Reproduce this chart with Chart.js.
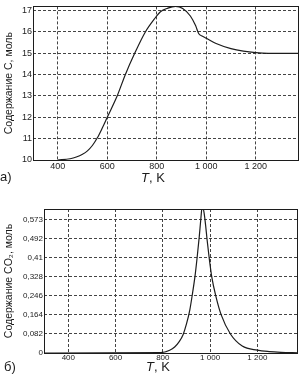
<!DOCTYPE html>
<html>
<head>
<meta charset="utf-8">
<script src="https://cdn.jsdelivr.net/npm/chart.js@4"></script>
<style>
  html,body{margin:0;padding:0;background:#fff;}
  #wrap{position:relative;width:300px;height:383px;}
  .box{position:absolute;left:0;width:300px;}
</style>
</head>
<body>
<div id="wrap">
  <div class="box" style="top:0;height:190px"><canvas id="chartC"></canvas></div>
  <div class="box" style="top:190px;height:193px"><canvas id="chartCO2"></canvas></div>
</div>
<script>
// T, K ticks shared by both panels
let xTicks = [400, 600, 800, 1000, 1200];

// panel a) carbon content, mol
let tempC = [400, 450, 475, 500, 520, 540, 560, 580, 600, 640, 673, 711, 754, 790, 815, 845, 876, 905, 936, 957, 970, 985, 1000, 1040, 1100, 1150, 1200, 1250, 1375];
let carbon = [10.0, 10.06, 10.14, 10.27, 10.43, 10.68, 11.04, 11.5, 12.0, 13.0, 14.0, 15.0, 16.0, 16.6, 16.95, 17.12, 17.2, 17.1, 16.75, 16.3, 15.92, 15.8, 15.71, 15.46, 15.22, 15.1, 15.03, 15.0, 15.0];
let yTicksC = [10, 11, 12, 13, 14, 15, 16, 17];

// panel б) CO2 content, mol
let tempCO2 = [297, 790, 829, 850, 870, 886, 900, 914, 926, 936, 945, 954, 961, 967, 975, 981, 987, 996, 1007, 1024, 1047, 1086, 1136, 1200, 1250, 1300, 1372];
let co2 = [0, 0.002, 0.012, 0.026, 0.05, 0.08, 0.125, 0.185, 0.26, 0.33, 0.41, 0.5, 0.58, 0.635, 0.6, 0.55, 0.49, 0.41, 0.328, 0.246, 0.164, 0.082, 0.03, 0.012, 0.006, 0.003, 0.001];
let yTicksCO2 = [0, 0.082, 0.164, 0.246, 0.328, 0.41, 0.492, 0.573];

const FONT = '"Liberation Sans", Arial, sans-serif';
const INK = '#1c1c1c';

function fmtT(v){ return v >= 1000 ? String(v).replace(/(\d)(\d{3})$/, '$1 $2') : String(v); }

// frame round the plot + x title with italic T + panel tag
const frame = {
  id:'frame',
  afterDraw(c, args, o){
    let ctx=c.ctx, a=c.chartArea;
    ctx.save();
    ctx.strokeStyle=INK; ctx.lineWidth=1;
    ctx.strokeRect(Math.round(a.left)+0.5, Math.round(a.top)+0.5, Math.round(a.right-a.left)-1, Math.round(a.bottom-a.top));
    ctx.fillStyle=INK; ctx.textBaseline='middle'; ctx.textAlign='left';
    ctx.font='italic 13px '+FONT; let w1=ctx.measureText('T').width;
    ctx.font='13px '+FONT; let w2=ctx.measureText(', K').width;
    let x0=o.tx-(w1+w2)/2;
    ctx.font='italic 13px '+FONT; ctx.fillText('T', x0, o.ty);
    ctx.font='13px '+FONT; ctx.fillText(', K', x0+w1, o.ty);
    ctx.fillText(o.tag, o.lx, o.ly);
    ctx.restore();
  }
};

function makeChart(id, xs, ys, yt, cfg){
  let pts = xs.map((x,i)=>({x:x, y:ys[i]}));
  let grid = {color:'#444', lineWidth:1, drawTicks:false, borderDash:[3,2]};
  return new Chart(document.getElementById(id), {
    type:'line',
    data:{datasets:[{data:pts, borderColor:INK, borderWidth:1.2, pointRadius:0, cubicInterpolationMode:'monotone', fill:false}]},
    options:{
      responsive:true, maintainAspectRatio:false, animation:false,
      layout:{padding:cfg.pad},
      plugins:{legend:{display:false}, tooltip:{enabled:false}, frame:cfg.frame},
      scales:{
        x:{type:'linear', min:cfg.xmin, max:cfg.xmax,
           afterBuildTicks:s=>{s.ticks=xTicks.map(v=>({value:v}));},
           afterFit:s=>{s.height=cfg.xh;},
           ticks:{font:{family:FONT,size:cfg.fs}, color:INK, padding:cfg.xpad, maxRotation:0, callback:v=>fmtT(v)},
           grid:grid,
           border:{display:false, dash:[3,2]}},
        y:{min:cfg.ymin, max:cfg.ymax,
           afterBuildTicks:s=>{s.ticks=yt.map(v=>({value:v}));},
           afterFit:s=>{s.width=cfg.yw;},
           ticks:{font:{family:FONT,size:cfg.fs}, color:INK, padding:1, callback:v=>String(v).replace('.',',')},
           grid:grid,
           border:{display:false, dash:[3,2]},
           title:{display:true, text:cfg.ytitle, color:INK, font:{family:FONT,size:10.5}, padding:{top:3,bottom:0}}}
      }
    },
    plugins:[frame]
  });
}

makeChart('chartC', tempC, carbon, yTicksC, {
  pad:{top:1,right:1,left:0,bottom:0}, xmin:300, xmax:1375, ymin:10, ymax:17.2,
  xh:30, yw:33, xpad:1, fs:9, ytitle:'Содержание C, моль',
  frame:{tx:153, ty:178, tag:'а)', lx:0, ly:177}
});
makeChart('chartCO2', tempCO2, co2, yTicksCO2, {
  pad:{top:19,right:2,left:0,bottom:0}, xmin:297, xmax:1372, ymin:0, ymax:0.62,
  xh:30, yw:44, xpad:0, fs:8, ytitle:'Содержание CO₂, моль',
  frame:{tx:158, ty:177, tag:'б)', lx:4, ly:177}
});
</script>
</body>
</html>
